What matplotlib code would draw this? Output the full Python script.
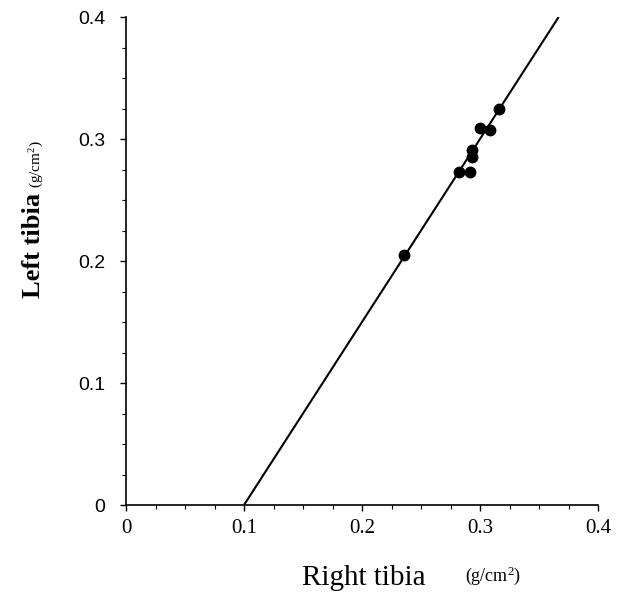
import numpy as np
import matplotlib
matplotlib.use("Agg")
import matplotlib.pyplot as plt
from matplotlib.ticker import MultipleLocator, FixedLocator

# Data
right_tibia = [0.2355, 0.2822, 0.2916, 0.2936, 0.2936, 0.3000, 0.3083, 0.3162]
left_tibia = [0.2050, 0.2732, 0.2732, 0.2910, 0.2855, 0.3093, 0.3074, 0.3243]

# regression line y = slope * x + intercept
slope = 1.5
intercept = -0.15
line_x = [0.1, 0.3667]

tick_vals = [0, 0.1, 0.2, 0.3, 0.4]
tick_labels = ["0", "0.1", "0.2", "0.3", "0.4"]

plt.rcParams["mathtext.fontset"] = "custom"
plt.rcParams["mathtext.rm"] = "Liberation Serif"
plt.rcParams["mathtext.it"] = "Liberation Serif:italic"

fig = plt.figure(figsize=(6.17, 5.96), dpi=100)
ax = fig.add_axes([126 / 617, 91 / 596, 472 / 617, 488 / 596])

lx = np.array(line_x)
ax.plot(lx, slope * lx + intercept, color="black", lw=1.5, solid_capstyle="butt")
ax.plot(right_tibia, left_tibia, "o", color="black", ms=7.5, mec="black")

ax.set_xlim(0, 0.4)
ax.set_ylim(0, 0.4)

for s in ["top", "right"]:
    ax.spines[s].set_visible(False)
for s in ["left", "bottom"]:
    ax.spines[s].set_linewidth(1.2)

ax.xaxis.set_major_locator(FixedLocator(tick_vals))
ax.yaxis.set_major_locator(FixedLocator(tick_vals))
ax.xaxis.set_minor_locator(MultipleLocator(0.025))
ax.yaxis.set_minor_locator(MultipleLocator(0.025))
ax.set_xticklabels(tick_labels, fontfamily="Liberation Serif", fontsize=15)
ax.set_yticklabels(tick_labels, fontfamily="Liberation Sans", fontsize=14)
ax.tick_params(axis="both", which="major", direction="out", length=4, width=1)
ax.tick_params(axis="both", which="minor", direction="out", length=3, width=0.8)
ax.tick_params(axis="x", which="major", pad=6)
ax.tick_params(axis="y", which="major", pad=11)

fig.text(364 / 617, 1 - 578 / 596, "Right tibia", fontfamily="Liberation Serif",
         fontsize=21, ha="center", va="center")
fig.text(493 / 617, 1 - 576 / 596, r"(g/cm$^{2}$)", fontfamily="Liberation Serif",
         fontsize=13, ha="center", va="center")
fig.text(33 / 617, 1 - 245 / 596, "Left tibia", fontfamily="Liberation Serif",
         fontsize=19, fontweight="bold", rotation=90, ha="center", va="center")
fig.text(37 / 617, 1 - 164 / 596, r"(g/cm$^{2}$)", fontfamily="Liberation Serif",
         fontsize=11, rotation=90, ha="center", va="center")

fig.savefig("out.png", dpi=100)
